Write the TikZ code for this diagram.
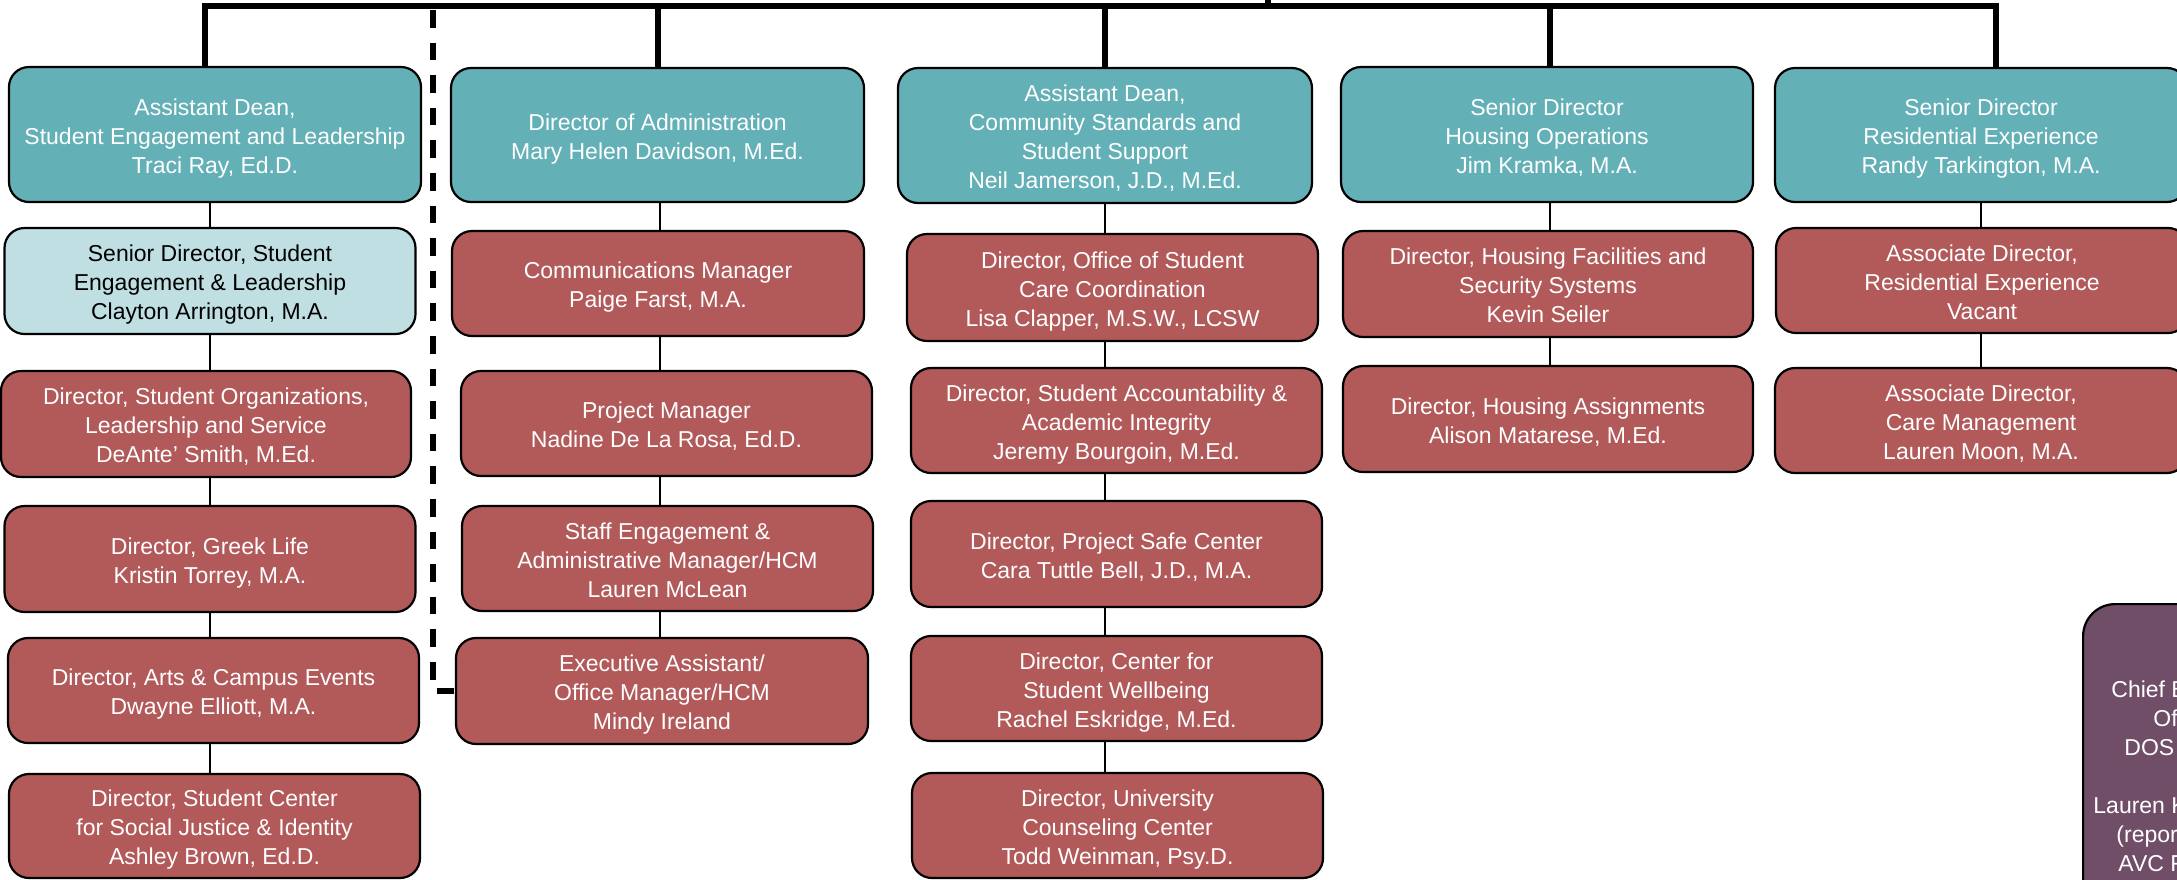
\documentclass[tikz,border=0pt]{standalone}
\usepackage{fontspec}
\setmainfont{Liberation Sans}
\definecolor{tealc}{RGB}{99,176,183}
\definecolor{redc}{RGB}{178,89,90}
\definecolor{lightc}{RGB}{192,223,227}
\definecolor{purplec}{RGB}{112,78,104}
\newcommand\orgfont{\fontsize{11.5}{14.5}\selectfont}
\newcommand\tstr{\rule{0pt}{1.05em}}
\newcommand\bstr{\rule[-0.22em]{0pt}{0.22em}}
\begin{document}
\begin{tikzpicture}[x=0.5pt,y=-0.5pt,
  orgbox/.style={draw=black, line width=1.1pt, rounded corners=10pt, align=center, inner sep=0pt, font=\orgfont},
  headbox/.style={orgbox, fill=tealc, text=white},
  redbox/.style={orgbox, fill=redc, text=white},
  lightbox/.style={orgbox, fill=lightc, text=black},
  purplebox/.style={orgbox, fill=purplec, rounded corners=16pt},
  bx/.style 2 args={minimum width=#1*0.5pt, minimum height=#2*0.5pt},
  mainline/.style={line width=3pt},
  midline/.style={line width=1.25pt},
  thinline/.style={line width=0.65pt},
  dashline/.style={line width=2.9pt, dash pattern=on 8.75pt off 7.55pt},
  cbotext/.style={anchor=base west, inner sep=0pt, text=white, font=\orgfont}]
\useasboundingbox (0,0) rectangle (2177,879);
\clip (0,0) rectangle (2177,879);

% Student Engagement and Leadership column
\node[headbox, bx={412}{135}] (sel0) at (215,134.5) {\tstr Assistant Dean,\\Student Engagement and Leadership\\Traci Ray, Ed.D.\bstr};
\node[lightbox, bx={411}{106}] (sel1) at (210,281) {\tstr Senior Director, Student\\Engagement \& Leadership\\Clayton Arrington, M.A.\bstr};
\node[redbox, bx={410}{106}] (sel2) at (206,424) {\tstr Director, Student Organizations,\\Leadership and Service\\DeAnte’ Smith, M.Ed.\bstr};
\node[redbox, bx={411}{106}] (sel3) at (210,559) {\tstr Director, Greek Life\\Kristin Torrey, M.A.\bstr};
\node[redbox, bx={411}{105}] (sel4) at (213.5,690.5) {\tstr Director, Arts \& Campus Events\\Dwayne Elliott, M.A.\bstr};
\node[redbox, bx={411}{104}] (sel5) at (214.5,826) {\tstr Director, Student Center\\for Social Justice \& Identity\\Ashley Brown, Ed.D.\bstr};

% Administration column
\node[headbox, bx={413}{134}] (adm0) at (657.5,135) {\tstr Director of Administration\\Mary Helen Davidson, M.Ed.\bstr};
\node[redbox, bx={412}{105}] (adm1) at (658,283.5) {\tstr Communications Manager\\Paige Farst, M.A.\bstr};
\node[redbox, bx={411}{105}] (adm2) at (666.5,423.5) {\tstr Project Manager\\Nadine De La Rosa, Ed.D.\bstr};
\node[redbox, bx={411}{105}] (adm3) at (667.5,558.5) {\tstr Staff Engagement \&\\Administrative Manager/HCM\\Lauren McLean\bstr};
\node[redbox, bx={412}{106}] (adm4) at (662,691) {\tstr Executive Assistant/\\Office Manager/HCM\\Mindy Ireland\bstr};

% Community Standards column
\node[headbox, bx={414}{135}] (cs0) at (1105,135.5) {\tstr Assistant Dean,\\Community Standards and\\Student Support\\Neil Jamerson, J.D., M.Ed.\bstr};
\node[redbox, bx={411}{107}] (cs1) at (1112.5,287.5) {\tstr Director, Office of Student\\Care Coordination\\Lisa Clapper, M.S.W., LCSW\bstr};
\node[redbox, bx={411}{105}] (cs2) at (1116.5,420.5) {\tstr Director, Student Accountability \&\\Academic Integrity\\Jeremy Bourgoin, M.Ed.\bstr};
\node[redbox, bx={411}{106}] (cs3) at (1116.5,554) {\tstr Director, Project Safe Center\\Cara Tuttle Bell, J.D., M.A.\bstr};
\node[redbox, bx={411}{105}] (cs4) at (1116.5,688.5) {\tstr Director, Center for\\Student Wellbeing\\Rachel Eskridge, M.Ed.\bstr};
\node[redbox, bx={411}{105}] (cs5) at (1117.5,825.5) {\tstr Director, University\\Counseling Center\\Todd Weinman, Psy.D.\bstr};

% Housing Operations column
\node[headbox, bx={412}{135}] (ho0) at (1547,134.5) {\tstr Senior Director\\Housing Operations\\Jim Kramka, M.A.\bstr};
\node[redbox, bx={410}{106}] (ho1) at (1548,284) {\tstr Director, Housing Facilities and\\Security Systems\\Kevin Seiler\bstr};
\node[redbox, bx={410}{106}] (ho2) at (1548,419) {\tstr Director, Housing Assignments\\Alison Matarese, M.Ed.\bstr};

% Residential Experience column
\node[headbox, bx={412}{134}] (re0) at (1981,135) {\tstr Senior Director\\Residential Experience\\Randy Tarkington, M.A.\bstr};
\node[redbox, bx={412}{105}] (re1) at (1982,280.5) {\tstr Associate Director,\\Residential Experience\\Vacant\bstr};
\node[redbox, bx={412}{105}] (re2) at (1981,420.5) {\tstr Associate Director,\\Care Management\\Lauren Moon, M.A.\bstr};

% Purple box (clipped at the right edge, as in the original)
\node[purplebox, bx={400}{344}, anchor=north west] (cbo) at (2082,603) {};
\node[cbotext] (cbo1) at (2111,697) {Chief Business};
\node[cbotext] (cbo2) at (2153,726) {Officer};
\node[cbotext] (cbo3) at (2124,755) {DOS};
\node[cbotext] (cbo4) at (2093,813) {Lauren K};
\node[cbotext] (cbo5) at (2116,842) {(reports to};
\node[cbotext] (cbo6) at (2118,871) {AVC F};

% Bus coordinates
\coordinate (parent) at (1268,-20);
\coordinate (busL) at (205,6);
\coordinate (busR) at (1996,6);
\coordinate (busP) at (1268,6);
\coordinate (dtop) at (433,10);
\coordinate (selx) at (210,0);
\coordinate (admx) at (660,0);
\coordinate (csx) at (1105,0);
\coordinate (hox) at (1550,0);
\coordinate (rex) at (1981,0);

% Main bus
\draw[mainline] (sel0.north -| busL) |- (busR) -- (re0.north -| busR);
\draw[mainline] (parent) -- (busP);
\draw[mainline] (adm0.north) -- (adm0.north |- busL);
\draw[mainline] (cs0.north -| csx) -- (busL -| csx);
\draw[mainline] (ho0.north -| hox) -- (busL -| hox);

% Dashed link
\draw[dashline] (dtop) |- (adm4.west);

% Column links
\draw[midline] (sel0.south -| selx) -- (sel1.north -| selx);
\draw[midline] (sel1.south -| selx) -- (sel2.north -| selx);
\draw[midline] (sel2.south -| selx) -- (sel3.north -| selx);
\draw[midline] (sel3.south -| selx) -- (sel4.north -| selx);
\draw[midline] (sel4.south -| selx) -- (sel5.north -| selx);

\draw[thinline] (adm0.south -| admx) -- (adm1.north -| admx);
\draw[thinline] (adm1.south -| admx) -- (adm2.north -| admx);
\draw[thinline] (adm2.south -| admx) -- (adm3.north -| admx);
\draw[thinline] (adm3.south -| admx) -- (adm4.north -| admx);

\draw[midline] (cs0.south -| csx) -- (cs1.north -| csx);
\draw[midline] (cs1.south -| csx) -- (cs2.north -| csx);
\draw[midline] (cs2.south -| csx) -- (cs3.north -| csx);
\draw[midline] (cs3.south -| csx) -- (cs4.north -| csx);
\draw[midline] (cs4.south -| csx) -- (cs5.north -| csx);

\draw[thinline] (ho0.south -| hox) -- (ho1.north -| hox);
\draw[midline] (ho1.south -| hox) -- (ho2.north -| hox);

\draw[thinline] (re0.south -| rex) -- (re1.north -| rex);
\draw[thinline] (re1.south -| rex) -- (re2.north -| rex);
\end{tikzpicture}
\end{document}
